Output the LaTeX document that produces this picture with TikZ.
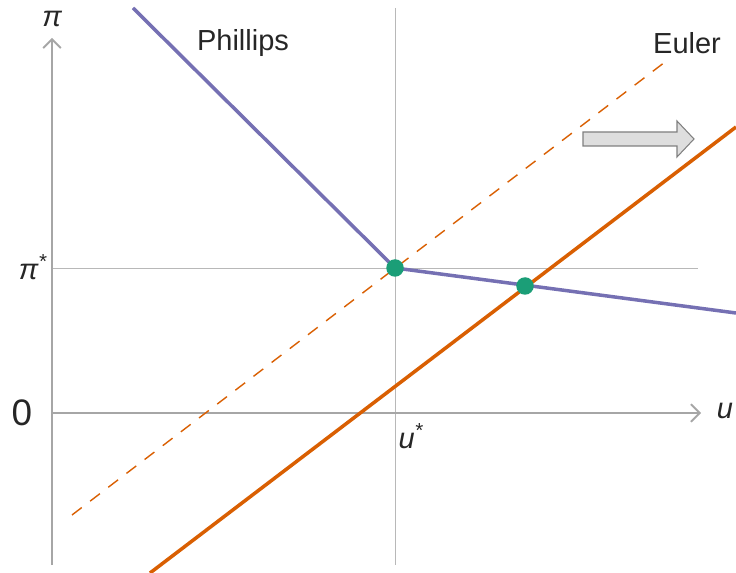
\documentclass[tikz,border=0pt]{standalone}
\usepackage{fontspec}
\setmainfont{Liberation Sans}
\usetikzlibrary{arrows.meta}
\definecolor{phil}{HTML}{7570B3}
\definecolor{eul}{HTML}{D95F02}
\definecolor{eq}{HTML}{1B9E77}
\definecolor{axisgray}{HTML}{A6A6A6}
\tikzset{
  axisline/.style={draw=axisgray, line width=1.1pt, -{Straight Barb[length=5pt, width=10pt, line width=1.1pt]}},
  guide/.style={draw=axisgray!80, line width=0.5pt},
  curve/.style={line width=2pt},
  eqdot/.style={circle, fill=eq, inner sep=0pt, minimum size=0.35cm},
  lbl/.style={font=\fontsize{16.5}{20}\selectfont, text=black!85}
}
\begin{document}
\begin{tikzpicture}[x=0.02cm, y=-0.02cm]
            \useasboundingbox (0,0) rectangle (736,573);
            % guides through the equilibrium
            \draw[guide] (395,8) -- (395,565);
            \draw[guide] (52,268) -- (698,268);
            % axes
            \coordinate (O) at (52,413);
            \coordinate (ytip) at (52,38);
            \coordinate (xtip) at (701,413);
            \draw[axisline] (52,565) -- (ytip);
            \draw[axisline] (O) -- (xtip);
            \node[lbl] (pi) at (52,19) {\itshape π};
            \node[lbl] (u) at (725,411) {\itshape u};
            \node[lbl, font=\fontsize{21}{24}\selectfont] (zero) at (22,413) {0};
            \node[lbl] (pistar) at (33,267) {\itshape π\textsuperscript{*}};
            \node[lbl] (ustar) at (411,436) {\itshape u\textsuperscript{*}};
            % curves
            \coordinate (E0) at (395,268);
            \coordinate (E1) at (525,286);
            \draw[eul, line width=0.8pt, dash pattern=on 7pt off 6pt] (72,515) -- (665,62);
            \draw[eul, curve] (150,573) -- (736,127);
            \draw[phil, curve] (133,8) -- (E0) -- (736,313);
            \node[eqdot] (e0) at (E0) {};
            \node[eqdot] (e1) at (E1) {};
            \node[lbl] (phillips) at (243,43) {Phillips};
            \node[lbl] (euler) at (687,43) {Euler};
            % shift of the Euler line
            \filldraw[fill=black!13, draw=black!50, line width=0.6pt]
              (583,132) -- (677,132) -- (677,121) -- (694,139) -- (677,157) -- (677,146) -- (583,146) -- cycle;
        \end{tikzpicture}
\end{document}
